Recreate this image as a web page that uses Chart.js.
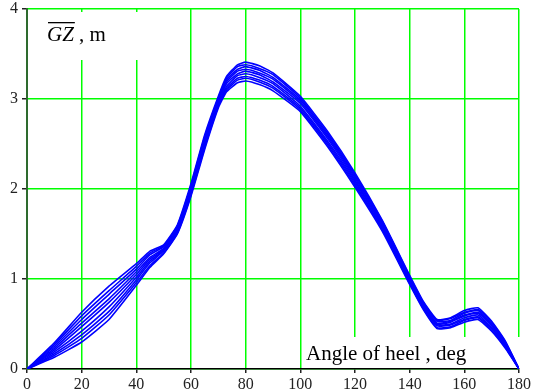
<!DOCTYPE html>
<html>
<head>
<meta charset="utf-8">
<script src="https://cdn.jsdelivr.net/npm/chart.js@4/dist/chart.umd.min.js"></script>
<style>
    body { margin: 0; background: #fff; }
    #gzChart { display: block; }
</style>
</head>
<body>
<canvas id="gzChart" width="534" height="392"></canvas>
<script>
// Angle of heel, deg
const angles = [0, 10, 20, 30, 40, 45, 50, 55, 60, 65, 70, 73, 77, 80, 85, 90, 100, 110, 120, 130, 140, 145, 150, 155, 160, 165, 170, 175, 180];

// GZ curves, m (lowest to highest)
const gz1 = [0, 0.13, 0.30, 0.55, 0.93, 1.13, 1.28, 1.50, 1.92, 2.44, 2.90, 3.08, 3.18, 3.20, 3.16, 3.09, 2.86, 2.47, 2.02, 1.53, 0.94, 0.66, 0.45, 0.46, 0.52, 0.55, 0.42, 0.23, 0];
const gz2 = [0, 0.15, 0.34, 0.60, 0.96, 1.15, 1.29, 1.51, 1.94, 2.46, 2.92, 3.10, 3.21, 3.23, 3.19, 3.12, 2.88, 2.49, 2.04, 1.55, 0.95, 0.67, 0.46, 0.47, 0.54, 0.57, 0.43, 0.24, 0];
const gz3 = [0, 0.17, 0.38, 0.64, 0.99, 1.18, 1.31, 1.53, 1.96, 2.48, 2.93, 3.12, 3.23, 3.25, 3.21, 3.14, 2.90, 2.51, 2.06, 1.56, 0.97, 0.68, 0.48, 0.49, 0.55, 0.58, 0.45, 0.25, 0];
const gz4 = [0, 0.19, 0.42, 0.69, 1.02, 1.20, 1.32, 1.54, 1.97, 2.50, 2.95, 3.14, 3.26, 3.28, 3.24, 3.17, 2.92, 2.53, 2.08, 1.58, 0.98, 0.69, 0.49, 0.50, 0.57, 0.60, 0.46, 0.26, 0];
const gz5 = [0, 0.21, 0.47, 0.74, 1.05, 1.22, 1.33, 1.55, 1.99, 2.52, 2.97, 3.17, 3.28, 3.31, 3.27, 3.19, 2.95, 2.56, 2.10, 1.59, 0.99, 0.70, 0.50, 0.52, 0.59, 0.62, 0.48, 0.27, 0];
const gz6 = [0, 0.23, 0.51, 0.78, 1.08, 1.24, 1.34, 1.56, 2.01, 2.54, 2.98, 3.19, 3.31, 3.33, 3.29, 3.22, 2.97, 2.58, 2.12, 1.61, 1.00, 0.72, 0.51, 0.53, 0.60, 0.63, 0.49, 0.28, 0];
const gz7 = [0, 0.25, 0.55, 0.83, 1.11, 1.27, 1.36, 1.58, 2.03, 2.56, 3.00, 3.21, 3.33, 3.36, 3.32, 3.24, 2.99, 2.60, 2.14, 1.62, 1.02, 0.73, 0.53, 0.54, 0.62, 0.65, 0.50, 0.29, 0];
const gz8 = [0, 0.27, 0.59, 0.87, 1.14, 1.29, 1.37, 1.59, 2.04, 2.58, 3.01, 3.23, 3.36, 3.38, 3.34, 3.27, 3.01, 2.62, 2.16, 1.64, 1.03, 0.74, 0.54, 0.56, 0.63, 0.66, 0.52, 0.30, 0];
const gz9 = [0, 0.29, 0.63, 0.92, 1.17, 1.31, 1.38, 1.60, 2.06, 2.60, 3.03, 3.25, 3.38, 3.41, 3.37, 3.29, 3.03, 2.64, 2.18, 1.65, 1.04, 0.75, 0.55, 0.57, 0.65, 0.68, 0.53, 0.31, 0];

const allCurves = [gz1, gz2, gz3, gz4, gz5, gz6, gz7, gz8, gz9];

const xTicks = [0, 20, 40, 60, 80, 100, 120, 140, 160, 180];
const yTicks = [0, 1, 2, 3, 4];

const serif = "'Liberation Serif', 'DejaVu Serif', serif";

// white boxes + axis captions, drawn over the grid but under the curves
const captionPlugin = {
    id: 'captions',
    beforeDatasetsDraw(chart) {
        const ctx = chart.ctx;
        const area = chart.chartArea;
        ctx.save();
        ctx.fillStyle = '#fff';
        ctx.fillRect(area.left + 3, area.top + 3, 135, 48);
        ctx.fillRect(303, area.bottom - 32, 225, 31);

        ctx.fillStyle = '#000';
        ctx.textBaseline = 'alphabetic';
        ctx.font = 'italic 21px ' + serif;
        ctx.fillText('GZ', 47, 41);
        const gzWidth = ctx.measureText('GZ').width;
        ctx.fillRect(48, 22, gzWidth, 1.3);
        ctx.font = '21px ' + serif;
        ctx.fillText(' , m', 47 + gzWidth, 41);

        ctx.fillText('Angle of heel , deg', 306, 360);
        ctx.restore();
    }
};

const ctx = document.getElementById('gzChart');
new Chart(ctx, {
    type: 'line',
    data: {
        datasets: allCurves.map((curve) => ({
            data: curve.map((v, i) => ({ x: angles[i], y: v })),
            borderColor: '#0000ff',
            borderWidth: 1.6,
            pointRadius: 0,
            tension: 0.15,
            fill: false
        }))
    },
    options: {
        responsive: false,
        animation: false,
        layout: {
            padding: { top: 0, right: 15, left: 0, bottom: 0 }
        },
        plugins: {
            legend: { display: false },
            tooltip: { enabled: false }
        },
        scales: {
            x: {
                type: 'linear',
                min: 0,
                max: 180,
                afterBuildTicks: (axis) => { axis.ticks = xTicks.map(v => ({ value: v })); },
                afterFit: (axis) => { axis.height = 23; },
                ticks: {
                    color: '#222',
                    padding: 2,
                    maxRotation: 0,
                    font: { family: serif, size: 16 }
                },
                grid: {
                    color: '#00ff00',
                    lineWidth: 1.5,
                    tickColor: '#222',
                    tickLength: 4
                },
                border: { color: '#000', width: 1.5 }
            },
            y: {
                min: 0,
                max: 4,
                afterBuildTicks: (axis) => { axis.ticks = yTicks.map(v => ({ value: v })); },
                afterFit: (axis) => {
                    axis.width = 27;
                    axis.paddingTop = 9;
                    axis.paddingBottom = 0;
                },
                ticks: {
                    color: '#222',
                    padding: 4,
                    font: { family: serif, size: 16 }
                },
                grid: {
                    color: '#00ff00',
                    lineWidth: 1.5,
                    tickColor: '#222',
                    tickLength: 5
                },
                border: { color: '#2e6b2e', width: 2 }
            }
        }
    },
    plugins: [captionPlugin]
});
</script>
</body>
</html>
